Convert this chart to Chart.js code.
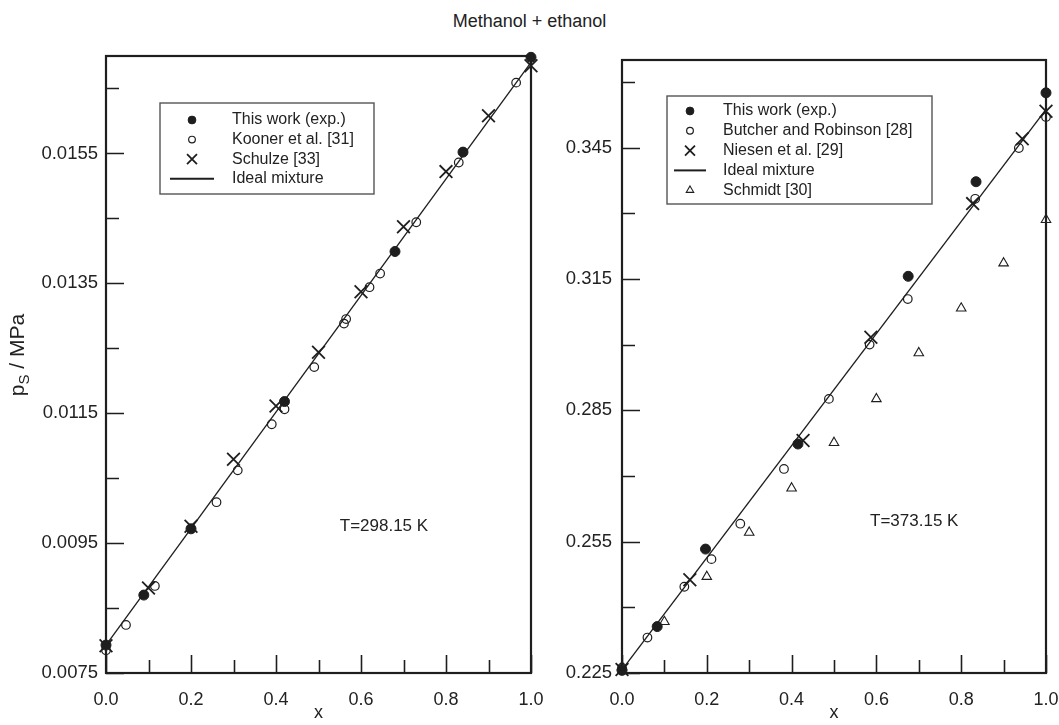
<!DOCTYPE html>
<html>
<head>
<meta charset="utf-8">
<script src="https://cdn.jsdelivr.net/npm/chart.js@4.4.0/dist/chart.umd.min.js"></script>
<style>
  html, body { margin: 0; padding: 0; background: #fff; }
  #wrap { position: relative; width: 1059px; height: 725px; overflow: hidden; }
  #title { position: absolute; left: 0; width: 1059px; top: 11px; text-align: center;
           font: 18px "Liberation Sans", Arial, sans-serif; color: #222; }
  .box { position: absolute; top: 0; height: 725px; }
</style>
</head>
<body>
<div id="wrap">
  <div id="title">Methanol + ethanol</div>
  <div class="box" style="left:0;width:560px"><canvas id="leftChart" width="560" height="725"></canvas></div>
  <div class="box" style="left:540px;width:519px"><canvas id="rightChart" width="519" height="725"></canvas></div>
</div>
<script>
const FONT = '"Liberation Sans", Arial, sans-serif';
const INK = "#1e1e1e";

// shared x ticks
const xMajor = [0, 0.2, 0.4, 0.6, 0.8, 1.0];
const xMinor = [0.1, 0.3, 0.5, 0.7, 0.9];

// T = 298.15 K
const leftYMajor = [0.0075, 0.0095, 0.0115, 0.0135, 0.0155];
const leftYMinor = [0.0085, 0.0105, 0.0125, 0.0145, 0.0165];
const leftOwnX = [0, 0.089, 0.20, 0.42, 0.68, 0.84, 1.0];
const leftOwnY = [0.00793, 0.0087, 0.00972, 0.01168, 0.01399, 0.01552, 0.01698];
const koonerX = [0, 0.047, 0.115, 0.26, 0.31, 0.39, 0.42, 0.49, 0.56, 0.565, 0.62, 0.645, 0.73, 0.83, 0.965];
const koonerY = [0.00785, 0.00824, 0.00884, 0.01013, 0.01062, 0.01133, 0.01156, 0.01221, 0.01288, 0.01295, 0.01344, 0.01365, 0.01444, 0.01536, 0.01659];
const schulzeX = [0, 0.1, 0.2, 0.3, 0.4, 0.5, 0.6, 0.7, 0.8, 0.9, 1.0];
const schulzeY = [0.00792, 0.00881, 0.00976, 0.01079, 0.01161, 0.01244, 0.01337, 0.01437, 0.01522, 0.01608, 0.01685];
const leftIdealX = [0, 1];
const leftIdealY = [0.00793, 0.0169];

// T = 373.15 K
const rightYMajor = [0.225, 0.255, 0.285, 0.315, 0.345];
const rightYMinor = [0.24, 0.27, 0.30, 0.33, 0.36];
const rightOwnX = [0, 0.083, 0.197, 0.415, 0.675, 0.835, 1.0];
const rightOwnY = [0.2256, 0.2356, 0.2533, 0.2773, 0.3156, 0.3372, 0.3575];
const butcherX = [0, 0.06, 0.147, 0.211, 0.279, 0.382, 0.488, 0.584, 0.674, 0.833, 0.936, 1.0];
const butcherY = [0.2262, 0.2331, 0.2447, 0.2510, 0.2591, 0.2716, 0.2876, 0.3000, 0.3104, 0.3333, 0.3449, 0.3520];
const niesenX = [0, 0.16, 0.427, 0.587, 0.827, 0.944, 1.0];
const niesenY = [0.2258, 0.2463, 0.2781, 0.3017, 0.3322, 0.3470, 0.3533];
const schmidtX = [0, 0.1, 0.2, 0.3, 0.4, 0.5, 0.6, 0.7, 0.8, 0.9, 1.0];
const schmidtY = [0.2264, 0.2367, 0.2470, 0.2571, 0.2672, 0.2776, 0.2876, 0.2981, 0.3083, 0.3186, 0.3285];
const rightIdealX = [0, 1];
const rightIdealY = [0.2257, 0.3537];

const zip = (xs, ys) => xs.map((x, i) => ({ x: x, y: ys[i] }));

const filled = (label, xs, ys) => ({
	label: label, data: zip(xs, ys), pointStyle: "circle", pointRadius: 5,
	backgroundColor: INK, borderColor: INK, borderWidth: 1, clip: false,
});
const open = (label, xs, ys) => ({
	label: label, data: zip(xs, ys), pointStyle: "circle", pointRadius: 4.3,
	backgroundColor: "rgba(0,0,0,0)", borderColor: INK, borderWidth: 1.2, clip: false,
});
const cross = (label, xs, ys) => ({
	label: label, data: zip(xs, ys), pointStyle: "crossRot", pointRadius: 9,
	backgroundColor: INK, borderColor: INK, borderWidth: 1.8, clip: false,
});
const tri = (label, xs, ys) => ({
	label: label, data: zip(xs, ys), pointStyle: "triangle", pointRadius: 5.5,
	backgroundColor: "rgba(0,0,0,0)", borderColor: INK, borderWidth: 1.1, clip: false,
});
const ideal = (xs, ys) => ({
	label: "Ideal mixture", data: zip(xs, ys), showLine: true, pointRadius: 0,
	borderColor: INK, borderWidth: 1.3, fill: false,
});

// frame + inward ticks
const frameTicks = {
	id: "frameTicks",
	beforeDatasetsDraw(chart, args, o) {
		const { ctx, chartArea: a } = chart;
		const sx = chart.scales.x, sy = chart.scales.y;
		ctx.save();
		ctx.strokeStyle = INK;
		ctx.lineWidth = 1.6;
		ctx.beginPath();
		const xt = (vals, len) => vals.forEach((v) => {
			const p = Math.round(sx.getPixelForValue(v)) + 0.5;
			ctx.moveTo(p, a.bottom); ctx.lineTo(p, a.bottom - len);
		});
		const yt = (vals, len) => vals.forEach((v) => {
			const p = Math.round(sy.getPixelForValue(v)) + 0.5;
			ctx.moveTo(a.left, p); ctx.lineTo(a.left + len, p);
		});
		xt(o.xMajor, 18); xt(o.xMinor, 13);
		yt(o.yMajor, 18); yt(o.yMinor, 13);
		ctx.stroke();
		ctx.lineWidth = 2.2;
		ctx.strokeRect(a.left, a.top, a.right - a.left, a.bottom - a.top);
		ctx.restore();
	},
};

// legend box inside the plot + temperature note + y title
const boxLegend = {
	id: "boxLegend",
	afterDatasetsDraw(chart, args, o) {
		const { ctx } = chart;
		const h = Chart.helpers;
		ctx.save();
		ctx.fillStyle = "#fff";
		ctx.fillRect(o.x, o.y, o.w, o.h);
		ctx.strokeStyle = "#555";
		ctx.lineWidth = 1.4;
		ctx.strokeRect(o.x, o.y, o.w, o.h);
		ctx.font = "16px " + FONT;
		ctx.textBaseline = "middle";
		chart.data.datasets.forEach((ds, i) => {
			const yy = o.rowY + i * o.step;
			ctx.strokeStyle = INK;
			if (ds.showLine) {
				ctx.lineWidth = 2;
				ctx.beginPath();
				ctx.moveTo(o.symX - o.lineHalf, yy); ctx.lineTo(o.symX + o.lineHalf, yy);
				ctx.stroke();
			} else {
				ctx.fillStyle = ds.backgroundColor;
				ctx.lineWidth = ds.borderWidth;
				h.drawPoint(ctx, { pointStyle: ds.pointStyle, radius: ds.pointRadius * 0.78, rotation: 0, borderWidth: ds.borderWidth }, o.symX, yy);
			}
			ctx.fillStyle = "#222";
			ctx.fillText(ds.label, o.textX, yy);
		});
		// temperature note
		ctx.font = "17px " + FONT;
		ctx.fillStyle = "#222";
		ctx.fillText(o.note, chart.scales.x.getPixelForValue(o.noteX), chart.scales.y.getPixelForValue(o.noteY));
		// y axis title with subscript
		if (o.yTitle) {
			ctx.translate(o.yTitle.x, o.yTitle.y);
			ctx.rotate(-Math.PI / 2);
			ctx.textBaseline = "alphabetic";
			const big = "21px " + FONT, small = "15px " + FONT;
			ctx.font = big; const w1 = ctx.measureText("p").width;
			ctx.font = small; const w2 = ctx.measureText("S").width;
			ctx.font = big; const w3 = ctx.measureText(" / MPa").width;
			let cx = -(w1 + w2 + w3) / 2;
			ctx.fillText("p", cx, 0); cx += w1;
			ctx.font = small; ctx.fillText("S", cx, 5); cx += w2;
			ctx.font = big; ctx.fillText(" / MPa", cx, 0);
		}
		ctx.restore();
	},
};

function makeChart(id, datasets, cfg) {
	return new Chart(document.getElementById(id), {
		type: "scatter",
		data: { datasets: datasets },
		plugins: [frameTicks, boxLegend],
		options: {
			responsive: false,
			animation: false,
			events: [],
			layout: { padding: cfg.padding },
			plugins: {
				legend: { display: false },
				tooltip: { enabled: false },
				frameTicks: { xMajor: xMajor, xMinor: xMinor, yMajor: cfg.yMajor, yMinor: cfg.yMinor },
				boxLegend: cfg.legend,
			},
			scales: {
				x: {
					type: "linear", min: 0, max: 1,
					afterBuildTicks: (s) => { s.ticks = xMajor.map((v) => ({ value: v })); },
					afterFit: (s) => { s.height = 725 - cfg.bottom; s.paddingLeft = 0; s.paddingRight = 0; },
					grid: { display: false, drawTicks: false },
					border: { display: false },
					ticks: { autoSkip: false, maxRotation: 0, padding: 16, color: "#222",
						font: { size: 18, family: FONT }, callback: (v) => v.toFixed(1) },
					title: { display: true, text: "x", color: "#222", font: { size: 18, family: FONT },
						padding: { top: 0, bottom: 1 } },
				},
				y: {
					type: "linear", min: cfg.yMin, max: cfg.yMax,
					afterBuildTicks: (s) => { s.ticks = cfg.yMajor.map((v) => ({ value: v })); },
					afterFit: (s) => { s.width = cfg.left; s.paddingTop = 0; s.paddingBottom = 0; },
					grid: { display: false, drawTicks: false },
					border: { display: false },
					ticks: { autoSkip: false, padding: cfg.labelGap, color: "#222",
						font: { size: 18.5, family: FONT }, callback: (v) => v.toFixed(cfg.digits) },
				},
			},
		},
	});
}

makeChart("leftChart", [
	filled("This work (exp.)", leftOwnX, leftOwnY),
	open("Kooner et al. [31]", koonerX, koonerY),
	cross("Schulze [33]", schulzeX, schulzeY),
	ideal(leftIdealX, leftIdealY),
], {
	padding: { left: 0, top: 56, right: 29, bottom: 0 },
	left: 106, bottom: 673, labelGap: 8,
	yMin: 0.0075, yMax: 0.0170, digits: 4,
	yMajor: leftYMajor, yMinor: leftYMinor,
	legend: {
		x: 160, y: 103, w: 214, h: 91, symX: 192, textX: 232, rowY: 120, step: 19.6, lineHalf: 22,
		note: "T=298.15 K", noteX: 0.55, noteY: 0.00976,
		yTitle: { x: 24, y: 355 },
	},
});

makeChart("rightChart", [
	filled("This work (exp.)", rightOwnX, rightOwnY),
	open("Butcher and Robinson [28]", butcherX, butcherY),
	cross("Niesen et al. [29]", niesenX, niesenY),
	ideal(rightIdealX, rightIdealY),
	tri("Schmidt [30]", schmidtX, schmidtY),
], {
	padding: { left: 0, top: 60, right: 13, bottom: 0 },
	left: 82, bottom: 673, labelGap: 10,
	yMin: 0.225, yMax: 0.365, digits: 3,
	yMajor: rightYMajor, yMinor: rightYMinor,
	legend: {
		x: 127, y: 96, w: 265, h: 108, symX: 150, textX: 183, rowY: 111, step: 19.8, lineHalf: 16,
		note: "T=373.15 K", noteX: 0.585, noteY: 0.2597,
	},
});
</script>
</body>
</html>
